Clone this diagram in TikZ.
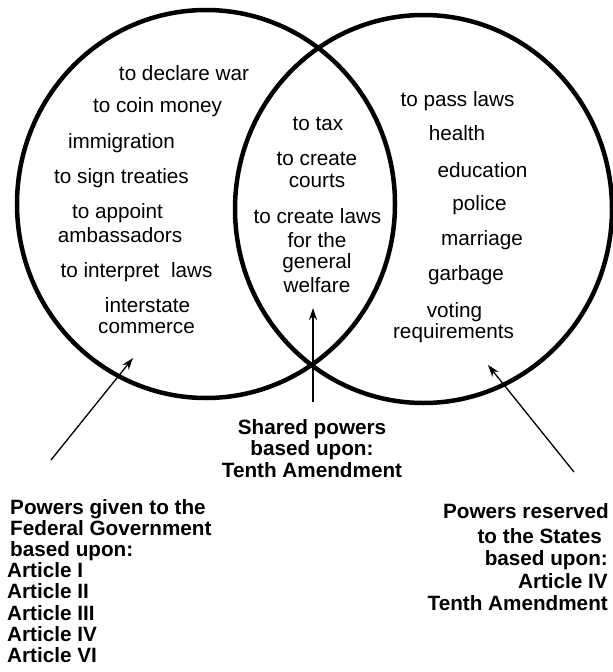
\documentclass[tikz,border=0pt]{standalone}
\usepackage{fontspec}
\setmainfont{Liberation Sans}
\usetikzlibrary{arrows.meta}
\begin{document}
\begin{tikzpicture}[x=1pt,y=-1pt,
  ring/.style={line width=4.5pt},
  item/.style={anchor=base, inner sep=0pt, font=\fontsize{20.7}{23}\selectfont},
  note/.style={anchor=base, inner sep=0pt, font=\fontsize{20.7}{21}\bfseries\selectfont},
  noteL/.style={note, anchor=base west},
  noteR/.style={note, anchor=base east},
  pointer/.style={line width=1.3pt, -{Stealth[length=12pt,width=8pt]}}]
\useasboundingbox (0,0) rectangle (613,672);
% circles
\draw[ring] (206,204) ellipse [x radius=189, y radius=194];
\draw[ring] (423.5,209) ellipse [x radius=188.5, y radius=194];
% federal powers
\node[item] (f1) at (184,80) {to declare war};
\node[item] (f2) at (157.5,112) {to coin money};
\node[item] (f3) at (121.5,148) {immigration};
\node[item] (f4) at (121.5,183) {to sign treaties};
\node[item] (f5a) at (117.5,218) {to appoint};
\node[item] (f5b) at (120,242) {ambassadors};
\node[item] (f6) at (136.5,277) {to interpret~ laws};
\node[item] (f7a) at (147.5,312) {interstate};
\node[item] (f7b) at (146.5,333) {commerce};
% shared powers
\node[item] (s1) at (318,130) {to tax};
\node[item] (s2a) at (317,165) {to create};
\node[item] (s2b) at (317,187) {courts};
\node[item] (s3a) at (317.5,223) {to create laws};
\node[item] (s3b) at (317,247) {for the};
\node[item] (s3c) at (317,268) {general};
\node[item] (s3d) at (317,292) {welfare};
% state powers
\node[item] (r1) at (457.5,106) {to pass laws};
\node[item] (r2) at (457,140) {health};
\node[item] (r3) at (482.5,177) {education};
\node[item] (r4) at (479.5,210) {police};
\node[item] (r5) at (482,245) {marriage};
\node[item] (r6) at (466,280) {garbage};
\node[item] (r7a) at (454.5,317) {voting};
\node[item] (r7b) at (453.5,338) {requirements};
% shared caption
\node[note] (c1) at (312,434) {Shared powers};
\node[note] (c2) at (312,455.5) {based upon:};
\node[note] (c3) at (312,477) {Tenth Amendment};
% federal caption
\node[noteL] (l1) at (10,514) {Powers given to the};
\node[noteL] (l2) at (10,535) {Federal Government};
\node[noteL] (l3) at (10,556) {based upon:};
\node[noteL] (l4) at (7,577) {Article I};
\node[noteL] (l5) at (7,598) {Article II};
\node[noteL] (l6) at (7,620) {Article III};
\node[noteL] (l7) at (7,641) {Article IV};
\node[noteL] (l8) at (7,662) {Article VI};
% state caption
\node[noteR] (q1) at (609,518) {Powers reserved};
\node[noteR] (q2) at (602,543) {to the States};
\node[noteR] (q3) at (608,565) {based upon:};
\node[noteR] (q4) at (608,588) {Article IV};
\node[noteR] (q5) at (608,610) {Tenth Amendment};
% arrows
\coordinate (la) at (51,460);
\coordinate (lb) at (133,358);
\coordinate (ma) at (313,402);
\coordinate (mb) at (313,308);
\coordinate (ra) at (574,472);
\coordinate (rb) at (488,365);
\draw[pointer] (la) -- (lb);
\draw[pointer] (ma) -- (mb);
\draw[pointer] (ra) -- (rb);
\end{tikzpicture}
\end{document}
